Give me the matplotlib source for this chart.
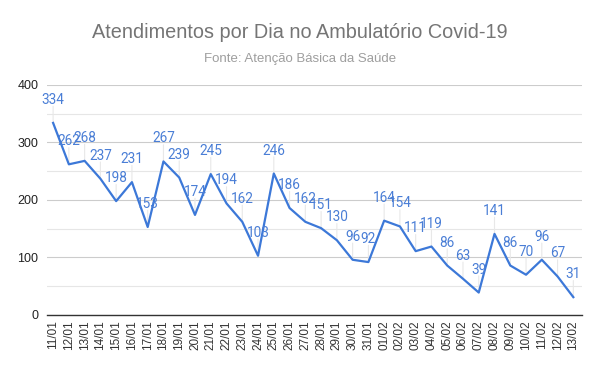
import numpy as np
import matplotlib.pyplot as plt
from matplotlib.ticker import MultipleLocator

# donnees
dias = ["11/01", "12/01", "13/01", "14/01", "15/01", "16/01", "17/01", "18/01",
        "19/01", "20/01", "21/01", "22/01", "23/01", "24/01", "25/01", "26/01",
        "27/01", "28/01", "29/01", "30/01", "31/01", "01/02", "02/02", "03/02",
        "04/02", "05/02", "06/02", "07/02", "08/02", "09/02", "10/02", "11/02",
        "12/02", "13/02"]
atendimentos = [334, 262, 268, 237, 198, 231, 153, 267, 239, 174, 245, 194, 162,
                103, 246, 186, 162, 151, 130, 96, 92, 164, 154, 111, 119, 86, 63,
                39, 141, 86, 70, 96, 67, 31]

azul = "#3c78d8"
plt.rcParams['font.family'] = ['Liberation Sans', 'DejaVu Sans']

fig = plt.figure(figsize=(6, 3.71), dpi=100)
ax = fig.add_axes([0.078, 0.151, 0.892, 0.620])

x = np.arange(len(dias))
ax.plot(x, atendimentos, color=azul, lw=1.6, zorder=3)

# etiquetas de valor com linha guia
for xi, v in zip(x, atendimentos):
    ax.annotate(str(v), (xi, v), xytext=(0, 11.5), textcoords='offset points',
                ha='center', va='bottom', fontsize=9.8, color="#4a7ed6",
                family=['Roboto', 'DejaVu Sans'], zorder=4)
    ax.annotate("", (xi, v), xytext=(0, 12), textcoords='offset points',
                arrowprops=dict(arrowstyle='-', color="#e8e8e8", lw=0.8,
                                shrinkA=0, shrinkB=0), zorder=1)

ax.set_xlim(-0.4, len(dias) - 1 + 0.55)
ax.set_ylim(0, 400)
ax.set_xticks(x)
ax.set_xticklabels(dias, rotation=90, fontsize=8.5, color="#333333")
ax.yaxis.set_major_locator(MultipleLocator(100))
ax.yaxis.set_minor_locator(MultipleLocator(50))
ax.tick_params(axis='y', which='both', length=0, labelsize=9, colors="#222222", pad=6)
ax.tick_params(axis='x', length=0, pad=4)
ax.grid(axis='y', which='major', color="#cccccc", lw=0.8)
ax.grid(axis='y', which='minor', color="#e6e6e6", lw=0.8)
ax.set_axisbelow(True)
for s in ['top', 'right', 'left']:
    ax.spines[s].set_visible(False)
ax.spines['bottom'].set_color("#333333")
ax.spines['bottom'].set_linewidth(1.0)

fig.text(0.5, 0.913, "Atendimentos por Dia no Ambulatório Covid-19",
         ha='center', va='center', fontsize=14.3, color="#757575")
fig.text(0.5, 0.84, "Fonte: Atenção Básica da Saúde",
         ha='center', va='center', fontsize=9.5, color="#9e9e9e")

fig.savefig("out.png", dpi=100)
